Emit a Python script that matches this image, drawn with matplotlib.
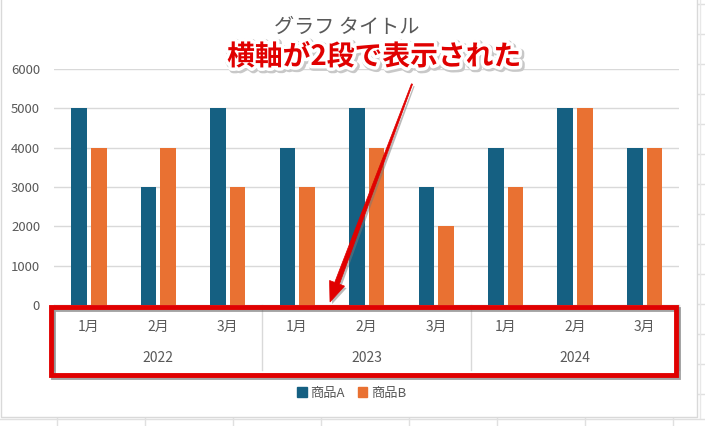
import numpy as np
import matplotlib
matplotlib.use("Agg")
import matplotlib.pyplot as plt
from matplotlib.patches import Rectangle, Polygon, Patch
from matplotlib.lines import Line2D
import matplotlib.patheffects as pe

plt.rcParams["font.family"] = ["Noto Sans CJK JP", "DejaVu Sans"]

years = ["2022", "2023", "2024"]
months = ["1月", "2月", "3月"]
series_names = ["商品A", "商品B"]
sales_a = [5000, 3000, 5000, 4000, 5000, 3000, 4000, 5000, 4000]
sales_b = [4000, 4000, 3000, 3000, 4000, 2000, 3000, 5000, 4000]
y_ticks = [0, 1000, 2000, 3000, 4000, 5000, 6000]

COL_A = "#156082"
COL_B = "#E97132"
GRID = "#D9D9D9"
TXT = "#595959"
RED = "#E00000"

W, H = 705, 426


def fx(x):
    return x / W


def fy(y):
    return 1 - y / H


fig = plt.figure(figsize=(W / 100, H / 100), dpi=100)

# spreadsheet background lines outside the chart
for x in [57, 145, 233, 321, 409, 497, 585, 673]:
    fig.add_artist(Line2D([fx(x), fx(x)], [fy(418), fy(426)], color="#E0E0E0", lw=1))
fig.add_artist(Line2D([0, 1], [fy(419), fy(419)], color="#E0E0E0", lw=1))
for y in range(4, 420, 30):
    fig.add_artist(Line2D([fx(698), 1], [fy(y), fy(y)], color="#E0E0E0", lw=1))
fig.add_artist(Line2D([fx(700), fx(700)], [fy(0), fy(418)], color="#E8E8E8", lw=1))
# chart area border
fig.add_artist(Line2D([fx(1), fx(1), fx(697), fx(697)], [1, fy(417), fy(417), 1], color=GRID, lw=1))

ax = fig.add_axes([fx(54), fy(305), fx(679) - fx(54), fy(69) - fy(305)])
n = len(sales_a)
xs = np.arange(n) + 0.5
bw = 0.225
ax.bar(xs - 0.138, sales_a, width=bw, color=COL_A, zorder=3)
ax.bar(xs + 0.145, sales_b, width=bw, color=COL_B, zorder=3)

ax.set_xlim(0, n)
ax.set_ylim(0, 6000)
ax.set_yticks(y_ticks)
ax.set_yticklabels([str(v) for v in y_ticks])
ax.tick_params(axis="y", length=0, pad=10, labelsize=9.5, labelcolor=TXT)
ax.set_xticks([])
ax.grid(axis="y", color=GRID, lw=1, zorder=0)
for s in ["top", "right", "left"]:
    ax.spines[s].set_visible(False)
ax.spines["bottom"].set_color(GRID)

# two-level category axis
tr = ax.get_xaxis_transform()
h_px = 305 - 69
for i, x in enumerate(xs):
    ax.text(x, -(327 - 305) / h_px, months[i % 3], transform=tr, ha="center", va="center",
            fontsize=10, color=TXT)
for j, yr in enumerate(years):
    ax.text(3 * j + 1.5, -(358 - 305) / h_px, yr, transform=tr, ha="center", va="center",
            fontsize=10, color=TXT)
for x in [0, 3, 6, 9]:
    ax.plot([x, x], [0, -(370 - 305) / h_px], transform=tr, color=GRID, lw=1, clip_on=False)

# title
fig.text(fx(347), fy(27), "グラフ タイトル", ha="center", va="center", fontsize=14.5, color=TXT)

# legend
handles = [Patch(color=COL_A, label=series_names[0]), Patch(color=COL_B, label=series_names[1])]
fig.legend(handles=handles, loc="center", bbox_to_anchor=(fx(352), fy(393)), ncol=2,
           frameon=False, fontsize=9.5, labelcolor=TXT, handlelength=0.7, handleheight=0.7,
           handletextpad=0.3, columnspacing=1.0)

# red highlight box with a soft shadow
box_x, box_y, box_w, box_h = fx(51), fy(375), fx(676) - fx(51), fy(307) - fy(375)
fig.add_artist(Rectangle((box_x + fx(1.5), box_y - 1.5 / H), box_w, box_h, fill=False,
                         edgecolor="#666666", alpha=0.6, lw=3.5, zorder=9))
fig.add_artist(Rectangle((box_x, box_y), box_w, box_h, fill=False, edgecolor=RED, lw=3.5, zorder=10))

# arrow (tapered)
p0 = np.array([412.0, 84.0])
p1 = np.array([330.0, 302.0])
d = (p1 - p0) / np.linalg.norm(p1 - p0)
nrm = np.array([-d[1], d[0]])
hl, hw = 20.0, 8.0
base = p1 - d * hl
pts = [p0 + nrm * 0.6, base + nrm * 2.5, base + nrm * hw, p1, base - nrm * hw, base - nrm * 2.5, p0 - nrm * 0.6]
fig.add_artist(Polygon([(fx(px), fy(py)) for px, py in pts], closed=True, facecolor=RED,
                       edgecolor=RED, lw=0.5, zorder=11,
                       path_effects=[pe.SimplePatchShadow(offset=(1.5, -1.5), shadow_rgbFace="#777777", alpha=0.5),
                                     pe.Normal()]))

# annotation text
fig.text(fx(374), fy(57), "横軸が2段で表示された", ha="center", va="center", fontsize=20,
         fontweight="bold", color=RED, zorder=12,
         path_effects=[pe.Stroke(linewidth=6, foreground="#C8C8C8", offset=(1.2, -1.2)),
                       pe.Stroke(linewidth=5, foreground="white"), pe.Normal()])

fig.savefig("out.png", dpi=100)
